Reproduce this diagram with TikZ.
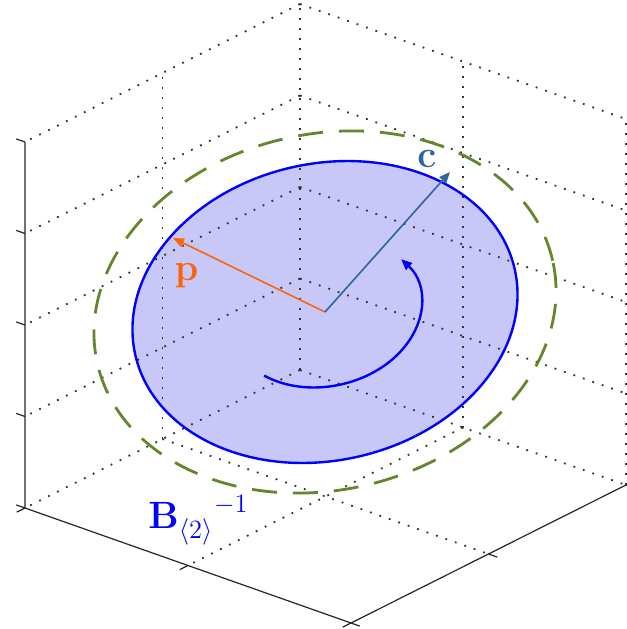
\documentclass[tikz,border=0pt]{standalone}
\usetikzlibrary{arrows.meta}
\definecolor{discfill}{RGB}{200,200,248}
\definecolor{discline}{RGB}{0,0,255}
\definecolor{hullgreen}{RGB}{100,135,45}
\definecolor{porange}{RGB}{250,100,10}
\definecolor{cblue}{RGB}{45,100,160}

\begin{document}
\begin{tikzpicture}[x={(-137.5pt,-69pt)}, y={(163pt,-57.5pt)}, z={(0pt,183pt)},
  font=\fontsize{17.28}{21}\selectfont,
  lbl/.style={anchor=base, inner sep=0pt, scale=1.1, transform shape},
  grid/.style={black!80, line width=0.9pt, dash pattern=on 0.9pt off 4.1pt},
  axis/.style={black!85, line width=0.6pt},
  arr/.style={-{Triangle[length=5.5pt, width=4.5pt]}, line width=0.8pt}]
\useasboundingbox (-150pt,-129.5pt) rectangle (163.5pt,185pt);
\coordinate (ctr) at (12.5pt,29pt);
\coordinate (ptip) at (-63.5pt,66pt);
\coordinate (ctip) at (75pt,99pt);
% disc fill below the grid
\begin{scope}[shift={(ctr)}, rotate=12.7]
  \fill[discfill] (0pt,0pt) ellipse[x radius=97.25pt, y radius=74.2pt];
\end{scope}
% box grid: floor, left wall, right wall
\foreach \a in {0,0.5} { \draw[grid] (\a,0,0) -- (\a,1,0); \draw[grid] (0,\a,0) -- (1,\a,0); }
\foreach \a in {0,0.5} { \draw[grid] (\a,0,0) -- (\a,0,1); \draw[grid] (0,1-\a,0) -- (0,1-\a,1); }
\foreach \h in {0.25,0.5,0.75,1} { \draw[grid] (0,0,\h) -- (1,0,\h); \draw[grid] (0,0,\h) -- (0,1,\h); }
% axes and ticks
\draw[axis] (1,0,1) -- (1,0,0) -- (1,1,0) -- (0,1,0);
\foreach \h in {0,0.25,0.5,0.75,1} { \draw[axis] (1,0,\h) -- (1,-0.027,\h); }
\foreach \a in {0,0.5,1} { \draw[axis] (1,\a,0) -- (1.03,\a,0); \draw[axis] (\a,1,0) -- (\a,1.027,0); }
% ellipses and rotation
\begin{scope}[shift={(ctr)}, rotate=12.7]
  \draw[hullgreen, line width=1.4pt, dash pattern=on 12.5pt off 8pt] (0pt,0pt) ellipse[x radius=116.7pt, y radius=89pt];
  \draw[discline, line width=1.2pt] (0pt,0pt) ellipse[x radius=97.25pt, y radius=74.2pt];
  \draw[discline, line width=1.2pt, -{Triangle[length=5.5pt, width=4.5pt]}] (221:48.6pt and 37.1pt) arc[start angle=221, end angle=388, x radius=48.6pt, y radius=37.1pt];
\end{scope}
\draw[arr, porange] (ctr) -- (ptip);
\draw[arr, cblue] (ctr) -- (ctip);
\node[lbl, porange] (plbl) at (-56.75pt,45pt) {$\mathbf{p}$};
\node[lbl, cblue] (clbl) at (63.5pt,101.5pt) {$\mathbf{c}$};
\node[lbl, discline, anchor=base west] (blbl) at (-76pt,-79pt) {$\mathbf{B}_{\langle 2\rangle}^{\hspace{16pt}-1}$};
\end{tikzpicture}
\end{document}
